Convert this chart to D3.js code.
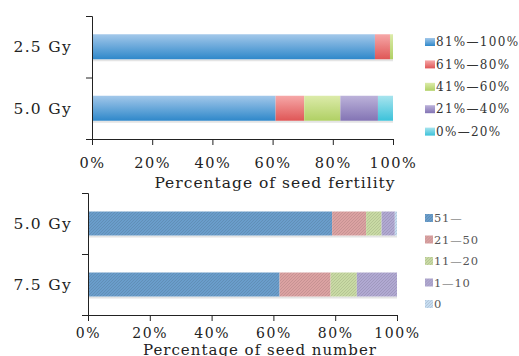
<!DOCTYPE html>
<html>
<head>
<meta charset="utf-8">
<script src="https://cdn.jsdelivr.net/npm/d3@7"></script>
<style>
  body { margin: 0; background: #fff; }
  text { font-family: "DejaVu Serif", serif; fill: #222; }
</style>
</head>
<body>
<div id="chart"></div>
<script>
// top chart: seed fertility
var fertDoses = ["2.5 Gy", "5.0 Gy"];
var fertClasses = ["81%\u2014100%", "61%\u201480%", "41%\u201460%", "21%\u201440%", "0%\u201420%"];
var fertValues = [
  [94, 5, 1, 0, 0],
  [61, 9.5, 12, 12.5, 5]
];
// bottom chart: seed number
var numDoses = ["5.0 Gy", "7.5 Gy"];
var numClasses = ["51\u2014", "21\u201450", "11\u201420", "1\u201410", "0"];
var numValues = [
  [79, 11, 5, 4.3, 0.7],
  [62, 16.5, 8.5, 13, 0]
];
var tickLabels = ["0%", "20%", "40%", "60%", "80%", "100%"];

var gradColors = [["#a3c8ea", "#2f88ca"], ["#f6a8a8", "#df5656"], ["#dcebaa", "#b0d064"], ["#bcb2da", "#8374b4"], ["#a8e4ee", "#3cc2da"]];
var hatchColors = ["#6a9dcb", "#dba2a2", "#c8daa4", "#b1a9d2", "#c6dcf0"];

var width = 519, height = 356;
var svg = d3.select("#chart").append("svg")
  .attr("width", width)
  .attr("height", height);

var defs = svg.append("defs");
gradColors.forEach(function(c, i) {
  var g = defs.append("linearGradient").attr("id", "grad" + i)
    .attr("x1", 0).attr("y1", 0).attr("x2", 0).attr("y2", 1);
  g.append("stop").attr("offset", "0%").attr("stop-color", c[0]);
  g.append("stop").attr("offset", "100%").attr("stop-color", c[1]);
});
hatchColors.forEach(function(c, i) {
  var p = defs.append("pattern").attr("id", "hatch" + i)
    .attr("patternUnits", "userSpaceOnUse").attr("width", 3).attr("height", 3);
  p.append("rect").attr("width", 3).attr("height", 3).attr("fill", c);
  p.append("path").attr("d", "M0,3L3,0").attr("stroke", d3.color(c).darker(0.35)).attr("stroke-width", 0.8);
});

function drawPanel(cfg) {
  var g = svg.append("g");
  var x = d3.scaleLinear().domain([0, 100]).range(cfg.xRange);
  var y = d3.scaleBand().domain(cfg.doses).range(cfg.yRange);

  cfg.values.forEach(function(row, r) {
    var acc = 0;
    var segs = row.map(function(v) { var s = {x0: acc, x1: acc + v}; acc += v; return s; });
    var yc = y(cfg.doses[r]) + y.bandwidth() / 2;
    // faint shadow under bar
    g.append("rect")
      .attr("x", x(0)).attr("y", yc + cfg.barH / 2)
      .attr("width", x(100) - x(0)).attr("height", 2)
      .attr("fill", "#e4e4e4");
    g.selectAll(null)
      .data(segs)
      .enter()
      .append("rect")
      .attr("x", function(d) { return x(d.x0); })
      .attr("y", yc - cfg.barH / 2)
      .attr("width", function(d) { return x(d.x1) - x(d.x0); })
      .attr("height", cfg.barH)
      .attr("fill", function(d, i) { return "url(#" + cfg.fill + i + ")"; });
  });

  var xAxis = d3.axisBottom(x)
    .tickValues([0, 20, 40, 60, 80, 100])
    .tickSize(6)
    .tickFormat(function(d, i) { return tickLabels[i]; });
  var xg = g.append("g")
    .attr("transform", "translate(0," + cfg.yRange[1] + ")")
    .call(xAxis);
  xg.selectAll("text")
    .style("font-size", cfg.tickFont)
    .style("letter-spacing", "1.6px")
    .attr("dy", "0")
    .attr("y", cfg.tickY);

  var yAxis = d3.axisLeft(d3.scaleLinear().domain([0, 2]).range([cfg.yRange[1], cfg.yRange[0]]))
    .ticks(2).tickSize(6).tickFormat("");
  g.append("g")
    .attr("transform", "translate(" + cfg.xRange[0] + ",0)")
    .call(yAxis);
  g.selectAll(".domain, .tick line").attr("stroke", "#222");

  g.selectAll(".dose")
    .data(cfg.doses)
    .enter()
    .append("text")
    .attr("text-anchor", "end")
    .attr("x", 72)
    .attr("y", function(d) { return y(d) + y.bandwidth() / 2; })
    .attr("dy", "0.35em")
    .style("font-size", "15.5px")
    .style("letter-spacing", "1.3px")
    .text(function(d) { return d; });

  g.append("text")
    .attr("text-anchor", "middle")
    .attr("x", cfg.titleX)
    .attr("y", cfg.titleY)
    .attr("dy", "0.35em")
    .style("font-size", cfg.titleFont)
    .style("letter-spacing", "1px")
    .text(cfg.title);

  var leg = g.selectAll(".leg")
    .data(cfg.classes)
    .enter()
    .append("g")
    .attr("transform", function(d, i) { return "translate(" + cfg.legX + "," + (cfg.legY + i * cfg.legStep) + ")"; });
  leg.append("rect")
    .attr("x", 0).attr("y", -4).attr("width", cfg.legSq).attr("height", 8)
    .attr("fill", function(d, i) { return "url(#" + cfg.fill + i + ")"; });
  leg.append("text")
    .attr("x", cfg.legSq + 1)
    .attr("dy", "0.35em")
    .style("font-size", cfg.legFont)
    .style("letter-spacing", cfg.legSpacing)
    .style("fill", cfg.legColor)
    .text(function(d) { return d; });
}

drawPanel({
  doses: fertDoses, classes: fertClasses, values: fertValues, fill: "grad",
  xRange: [92, 393], yRange: [16, 139], barH: 25, tickY: 29, tickFont: "14.5px",
  title: "Percentage of seed fertility", titleX: 275, titleY: 183, titleFont: "15.5px",
  legX: 425, legY: 42, legStep: 22.4, legSq: 10, legFont: "12px", legSpacing: "1.3px", legColor: "#333"
});
drawPanel({
  doses: numDoses, classes: numClasses, values: numValues, fill: "hatch",
  xRange: [88, 397], yRange: [193, 315], barH: 24, tickY: 23, tickFont: "14px",
  title: "Percentage of seed number", titleX: 260, titleY: 350, titleFont: "15px",
  legX: 425, legY: 218, legStep: 21.5, legSq: 8, legFont: "11.5px", legSpacing: "0.8px", legColor: "#555"
});
</script>
</body>
</html>
